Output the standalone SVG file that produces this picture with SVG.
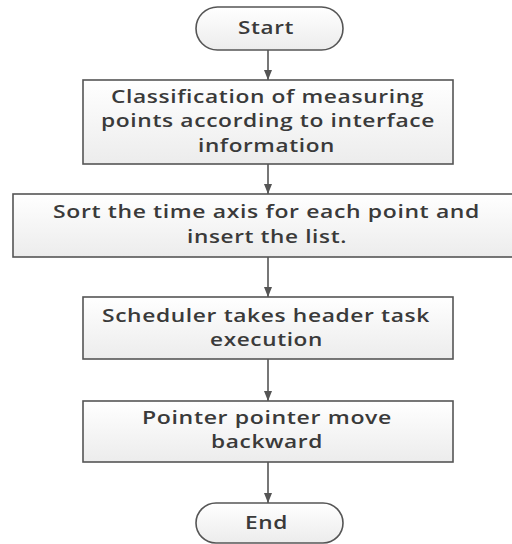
<svg xmlns="http://www.w3.org/2000/svg" width="512" height="544" viewBox="0 0 512 544">
<style>
.box{fill:url(#g);stroke:#555;stroke-width:1.6}
.t{font-family:"Open Sans","DejaVu Sans",sans-serif;font-size:18px;font-weight:600;fill:#3a3a3a;text-anchor:middle;letter-spacing:0.5px}
.c{stroke:#555;stroke-width:1.6;fill:none;marker-end:url(#a)}
</style>
<defs>
<linearGradient id="g" x1="0" y1="0" x2="0" y2="1">
<stop offset="0" stop-color="#ffffff"/>
<stop offset="1" stop-color="#ececec"/>
</linearGradient>
<marker id="a" viewBox="0 0 10 8" refX="10" refY="4" markerWidth="10" markerHeight="8" markerUnits="userSpaceOnUse" orient="auto">
<path d="M0,0 L10,4 L0,8 Z" fill="#555"/>
</marker>
</defs>
<rect width="512" height="544" fill="#fff"/>
<g id="connectors">
<line class="c" x1="268" y1="50" x2="268" y2="80"/>
<line class="c" x1="268" y1="164" x2="268" y2="194"/>
<line class="c" x1="268" y1="257" x2="268" y2="297"/>
<line class="c" x1="268" y1="359" x2="268" y2="401"/>
<line class="c" x1="268" y1="462" x2="268" y2="503"/>
</g>
<g id="start">
<rect class="box" x="196" y="7" width="147" height="43" rx="21.5"/>
<text class="t" x="266" y="34" textLength="56" lengthAdjust="spacingAndGlyphs">Start</text>
</g>
<g id="classify">
<rect class="box" x="83" y="80" width="370" height="84"/>
<text class="t" x="267.5" y="103" textLength="313" lengthAdjust="spacingAndGlyphs">Classification of measuring</text>
<text class="t" x="268" y="127" textLength="334" lengthAdjust="spacingAndGlyphs">points according to interface</text>
<text class="t" x="266.5" y="152" textLength="137" lengthAdjust="spacingAndGlyphs">information</text>
</g>
<g id="sort">
<rect class="box" x="13" y="194" width="512" height="63"/>
<text class="t" x="266.5" y="218" textLength="427" lengthAdjust="spacingAndGlyphs">Sort the time axis for each point and</text>
<text class="t" x="267" y="243" textLength="160" lengthAdjust="spacingAndGlyphs">insert the list.</text>
</g>
<g id="scheduler">
<rect class="box" x="83" y="297" width="370" height="62"/>
<text class="t" x="266" y="322" textLength="328" lengthAdjust="spacingAndGlyphs">Scheduler takes header task</text>
<text class="t" x="266.5" y="346" textLength="113" lengthAdjust="spacingAndGlyphs">execution</text>
</g>
<g id="pointer">
<rect class="box" x="83" y="401" width="370" height="61"/>
<text class="t" x="267" y="424" textLength="250" lengthAdjust="spacingAndGlyphs">Pointer pointer move</text>
<text class="t" x="267" y="448" textLength="112" lengthAdjust="spacingAndGlyphs">backward</text>
</g>
<g id="end">
<rect class="box" x="196" y="503" width="147" height="40" rx="20"/>
<text class="t" x="266.5" y="529" textLength="43" lengthAdjust="spacingAndGlyphs">End</text>
</g>
</svg>
